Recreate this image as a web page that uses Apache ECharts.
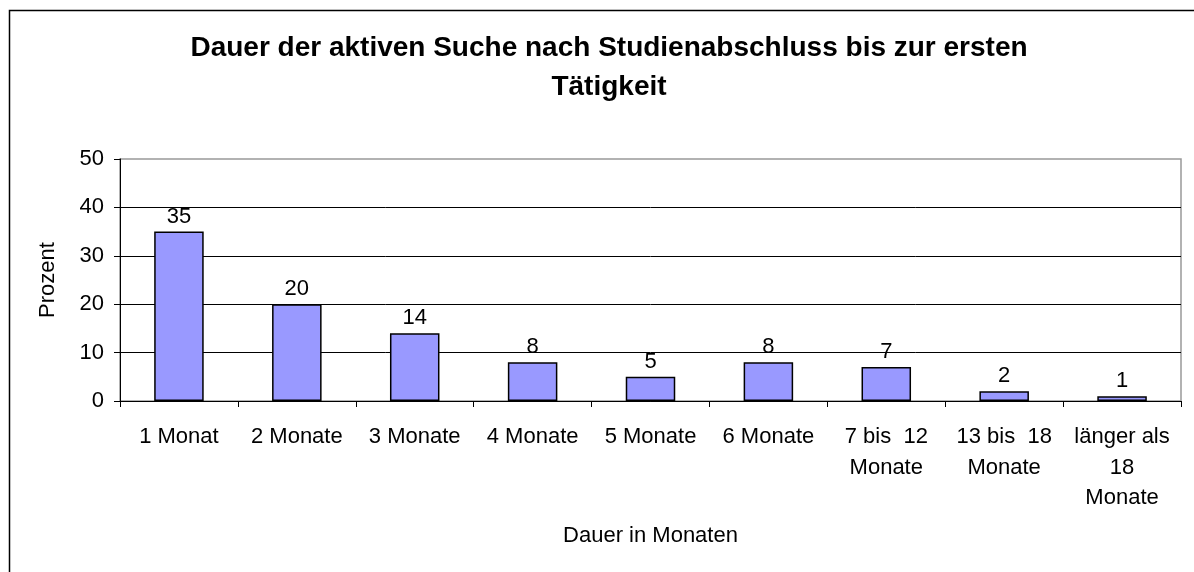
<!DOCTYPE html>
<html>
<head>
<meta charset="utf-8">
<script src="https://cdn.jsdelivr.net/npm/echarts@6/dist/echarts.min.js"></script>
<style>
  html, body { margin: 0; padding: 0; background: #fff; }
  #main { width: 1194px; height: 572px; }
</style>
</head>
<body>
<div id="main"></div>
<script>
// Daten aus der Grafik
var kategorien = ['1 Monat', '2 Monate', '3 Monate', '4 Monate', '5 Monate', '6 Monate',
    '7 bis  12\nMonate', '13 bis  18\nMonate', 'länger als\n18\nMonate']
var prozent = [35, 20, 14, 8, 5, 8, 7, 2, 1]
var yTicks = { min: 0, max: 50, interval: 10 }

var font = 'Liberation Sans, Arial, sans-serif'
var chart = echarts.init(document.getElementById('main'))

var option = {
    backgroundColor: '#fff',
    animation: false,
    title: {
        text: 'Dauer der aktiven Suche nach Studienabschluss bis zur ersten\nTätigkeit',
        left: 604,
        top: 24,
        textAlign: 'center',
        textStyle: {
            fontFamily: font,
            fontSize: 28,
            fontWeight: 'bold',
            color: '#000',
            lineHeight: 39
        }
    },
    graphic: [{
        type: 'rect',
        shape: { x: 9.5, y: 10.5, width: 1300, height: 700 },
        style: { fill: 'none', stroke: '#000', lineWidth: 1.5 },
        silent: true
    }],
    grid: {
        left: 120,
        right: 13,
        top: 159,
        bottom: 171,
        show: true,
        borderColor: '#999',
        borderWidth: 1.5
    },
    xAxis: {
        type: 'category',
        data: kategorien,
        name: 'Dauer in Monaten',
        nameLocation: 'middle',
        nameGap: 124,
        nameTextStyle: { fontFamily: font, fontSize: 22, color: '#000' },
        axisLine: { lineStyle: { color: '#000', width: 1 } },
        axisTick: { show: true, length: 6, lineStyle: { color: '#000' } },
        axisLabel: {
            interval: 0,
            margin: 21,
            fontFamily: font,
            fontSize: 22,
            color: '#000',
            lineHeight: 30.5,
            align: 'center'
        }
    },
    yAxis: {
        type: 'value',
        min: yTicks.min,
        max: yTicks.max,
        interval: yTicks.interval,
        name: 'Prozent',
        nameLocation: 'middle',
        nameGap: 61,
        nameTextStyle: { fontFamily: font, fontSize: 22, color: '#000' },
        axisLine: { show: true, lineStyle: { color: '#000', width: 1 } },
        axisTick: { show: true, length: 6, lineStyle: { color: '#000' } },
        axisLabel: { margin: 16, fontFamily: font, fontSize: 22, color: '#000' },
        splitLine: { show: true, showMaxLine: false, lineStyle: { color: '#000', width: 1 } }
    },
    series: [{
        type: 'bar',
        data: prozent,
        barWidth: '42%',
        itemStyle: { color: '#9999FF', borderColor: '#000', borderWidth: 1.5 },
        label: {
            show: true,
            position: 'top',
            distance: 4,
            fontFamily: font,
            fontSize: 22,
            color: '#000'
        }
    }]
}
chart.setOption(option)
</script>
</body>
</html>
